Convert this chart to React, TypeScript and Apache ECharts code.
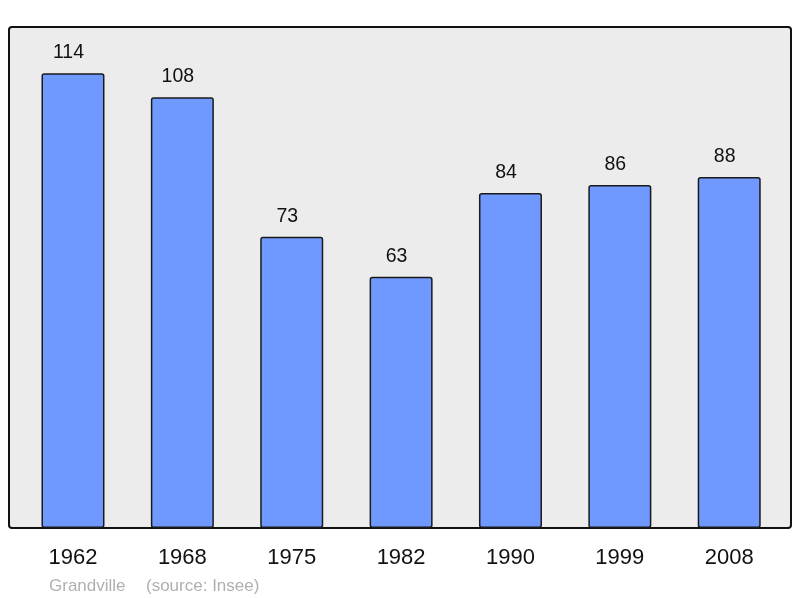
import React, { useEffect, useRef } from "react";
import * as echarts from "echarts";

const years = ["1962", "1968", "1975", "1982", "1990", "1999", "2008"];
const population = [114, 108, 73, 63, 84, 86, 88];
const placeName = "Grandville";
const sourceText = "(source: Insee)";

export default function App() {
  const ref = useRef<HTMLDivElement>(null);
  useEffect(() => {
    if (!ref.current) return;
    const chart = echarts.init(ref.current, null, { renderer: "svg" });
    chart.setOption({
      animation: false,
      textStyle: { fontFamily: "Liberation Sans, Arial, sans-serif" },
      graphic: [
        {
          type: "rect",
          z: -10,
          shape: { x: 9, y: 27, width: 782, height: 501, r: 3 },
          style: { fill: "#ececec", stroke: "#111", lineWidth: 2 },
        },
        {
          type: "text",
          x: 49,
          y: 585,
          style: { text: placeName, fill: "#b0b0b0", fontSize: 17, fontFamily: "Liberation Sans", textVerticalAlign: "middle" },
        },
        {
          type: "text",
          x: 146,
          y: 585,
          style: { text: sourceText, fill: "#b0b0b0", fontSize: 17, fontFamily: "Liberation Sans", textVerticalAlign: "middle" },
        },
      ],
      grid: { left: 18.3, width: 765.6, top: 27, bottom: 70, containLabel: false },
      xAxis: {
        type: "category",
        data: years,
        axisLine: { show: false },
        axisTick: { show: false },
        axisLabel: { fontSize: 22, color: "#111", margin: 17, fontFamily: "Liberation Sans" },
      },
      yAxis: {
        type: "value",
        min: 0,
        max: 125.6,
        show: false,
        splitLine: { show: false },
      },
      series: [
        {
          type: "bar",
          data: population,
          barWidth: 63,
          itemStyle: { color: "#7099ff", borderColor: "#1a1a1a", borderWidth: 1.5, borderRadius: 2 },
          label: { show: true, position: "top", distance: 12, offset: [-4.5, 0], fontSize: 19.5, color: "#111", fontFamily: "Liberation Sans" },
        },
      ],
    });
    return () => chart.dispose();
  }, []);
  return <div ref={ref} style={{ position: "fixed", left: 0, top: 0, width: 800, height: 598 }} />;
}
